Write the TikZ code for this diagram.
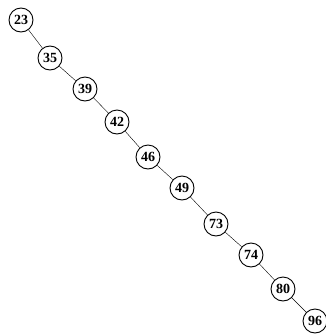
\documentclass[tikz,border=0pt]{standalone}
\usepackage{fontspec}
\setmainfont{Liberation Serif}
\begin{document}
\begin{tikzpicture}[x=1pt,y=-1pt,key/.style={draw,circle,line width=0.9pt,minimum size=24pt,inner sep=0pt,font=\fontsize{14}{14}\selectfont\bfseries}]
\useasboundingbox (0,0) rectangle (326,335);
\node[key] (n23) at (21,20) {23};
\node[key] (n35) at (50,58) {35};
\node[key] (n39) at (85,89) {39};
\node[key] (n42) at (117,122) {42};
\node[key] (n46) at (148,157) {46};
\node[key] (n49) at (182,188) {49};
\node[key] (n73) at (216,224) {73};
\node[key] (n74) at (251,255) {74};
\node[key] (n80) at (283,289) {80};
\node[key] (n96) at (315,321) {96};
\draw (n23)--(n35);
\draw (n35)--(n39);
\draw (n39)--(n42);
\draw (n42)--(n46);
\draw (n46)--(n49);
\draw (n49)--(n73);
\draw (n73)--(n74);
\draw (n74)--(n80);
\draw (n80)--(n96);
\end{tikzpicture}
\end{document}
